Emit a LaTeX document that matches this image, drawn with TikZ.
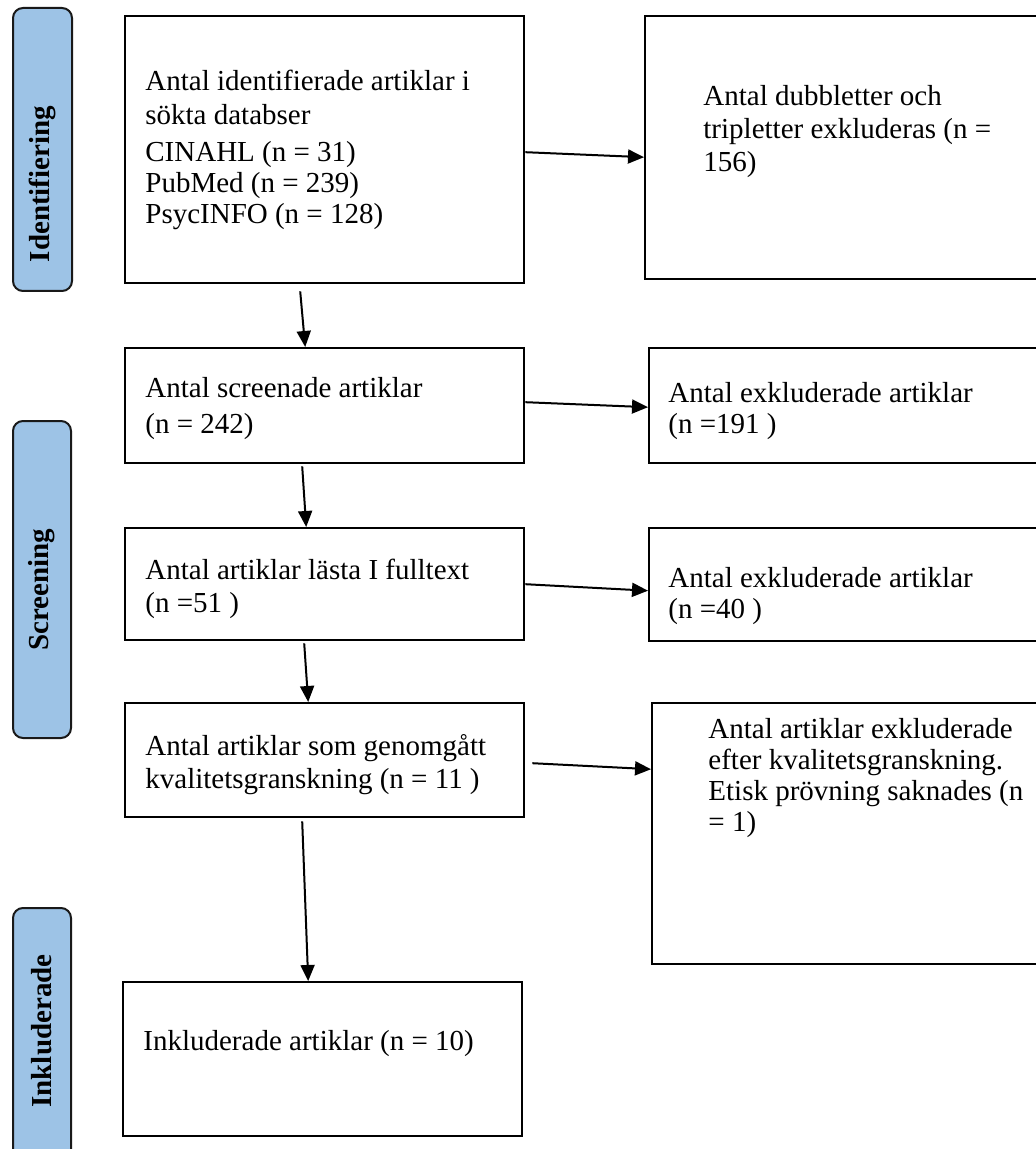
\documentclass[tikz,border=0pt]{standalone}
\usepackage{fontspec}
\setmainfont{Liberation Serif}
\usetikzlibrary{calc,arrows.meta}
\definecolor{sideblue}{HTML}{9DC3E6}
\begin{document}
\begin{tikzpicture}[x=0.5pt,y=-0.5pt,
  box/.style={draw=black,line width=1.2pt,inner sep=0pt,anchor=north west,fill=white},
  sidebox/.style={draw=black!90,line width=1pt,fill=sideblue,rounded corners=5pt,inner sep=0pt,anchor=north west},
  sidelabel/.style={rotate=90,font=\fontsize{14.5}{15.5}\selectfont\bfseries,inner sep=0pt},
  txt/.style={anchor=north west,inner sep=0pt,align=left,font=\fontsize{14.5}{15.5}\selectfont},
  arr/.style={-{Triangle[length=8pt,width=7pt]},line width=1pt}]
\useasboundingbox (0,0) rectangle (1035,1149);
% side phase boxes
\node[sidebox,minimum width=29.5pt,minimum height=141.5pt] (sb1) at (12,7) {};
\node[sidebox,minimum width=29pt,minimum height=158.5pt] (sb2) at (12,420) {};
\node[sidebox,minimum width=29pt,minimum height=130pt] (sb3) at (12,907) {};
\node[sidelabel] (lab1) at (42,184) {Identifiering};
\node[sidelabel] (lab2) at (42,590) {Screening};
\node[sidelabel] (lab3) at (42,1031) {Inkluderade};
% main boxes
\node[box,minimum width=199.5pt,minimum height=133.5pt] (b1) at (124,15) {};
\node[box,minimum width=199.5pt,minimum height=57.5pt] (b2) at (124,347) {};
\node[box,minimum width=199.5pt,minimum height=56pt] (b3) at (124,527) {};
\node[box,minimum width=199.5pt,minimum height=57pt] (b4) at (124,702) {};
\node[box,minimum width=199.5pt,minimum height=77pt] (b5) at (122,981) {};
% right boxes
\node[box,minimum width=198pt,minimum height=131.5pt] (r1) at (644,15) {};
\node[box,minimum width=196pt,minimum height=57.5pt] (r2) at (648,347) {};
\node[box,minimum width=196pt,minimum height=56.5pt] (r3) at (648,527) {};
\node[box,minimum width=194pt,minimum height=130.5pt] (r4) at (651,702) {};
% texts
\node[txt] (t1) at (145,68.3) {\strut Antal identifierade artiklar i\\[1.5pt]\strut sökta databser\\[3pt]\strut CINAHL (n = 31)\\\strut PubMed (n = 239)\\\strut PsycINFO (n = 128)};
\node[txt] (t2) at (145,375.3) {\strut Antal screenade artiklar\\[2.5pt]\strut (n = 242)};
\node[txt] (t3) at (145,557.3) {\strut Antal artiklar lästa I fulltext\\[1pt]\strut (n =51 )};
\node[txt] (t4) at (145,733.3) {\strut Antal artiklar som genomgått\\[1pt]\strut kvalitetsgranskning (n = 11 )};
\node[txt] (t5) at (143,1028.3) {\strut Inkluderade artiklar (n = 10)};
\node[txt] (u1) at (703,83.3) {\strut Antal dubbletter och\\[1pt]\strut tripletter exkluderas (n =\\[1pt]\strut 156)};
\node[txt] (u2) at (668,380.3) {\strut Antal exkluderade artiklar\\\strut (n =191 )};
\node[txt] (u3) at (668,565.3) {\strut Antal exkluderade artiklar\\\strut (n =40 )};
\node[txt] (u4) at (708,716.3) {\strut Antal artiklar exkluderade\\\strut efter kvalitetsgranskning.\\\strut Etisk prövning saknades (n\\\strut = 1)};
% connectors
\draw[arr] ($(b1.south)+(-24.5,7)$) -- ($(b2.north)+(-19.5,0)$);
\draw[arr] ($(b1.east)+(0,2.5)$) -- ($(r1.west)+(0,9.5)$);
\draw[arr] ($(b2.east)+(0,-3.5)$) -- ($(r2.west)+(0,1.5)$);
\draw[arr] ($(b2.south)+(-22.5,2)$) -- ($(b3.north)+(-18.5,0)$);
\draw[arr] ($(b3.east)+(0,0)$) -- ($(r3.west)+(0,6)$);
\draw[arr] ($(b3.south)+(-20.5,2)$) -- ($(b4.north)+(-16.5,0)$);
\draw[arr] ($(b4.east)+(7,3)$) -- ($(r4.west)+(0,-64.5)$);
\draw[arr] ($(b4.south)+(-22.5,3)$) -- ($(b5.north)+(-14.5,0)$);
\end{tikzpicture}
\end{document}
